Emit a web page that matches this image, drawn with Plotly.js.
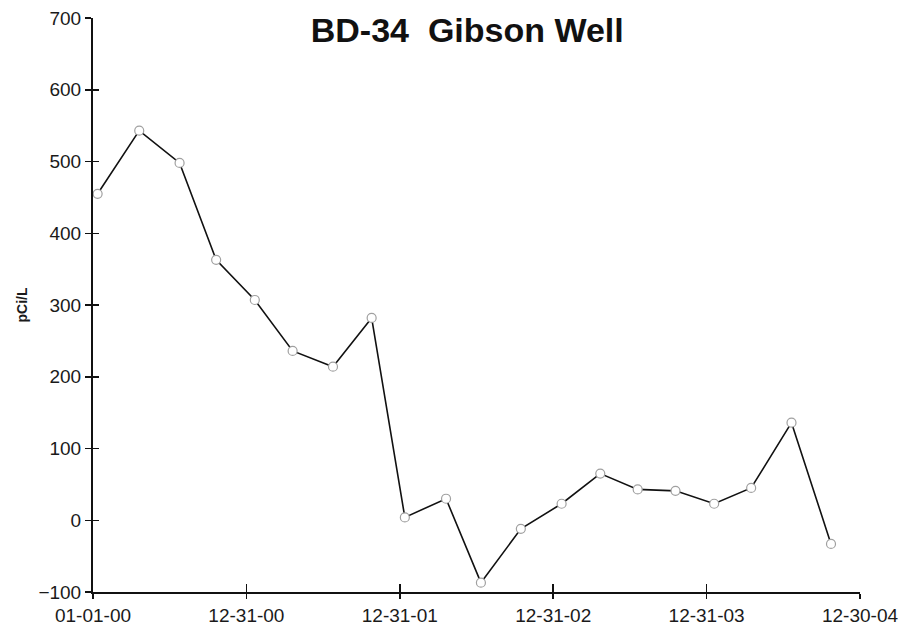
<!DOCTYPE html>
<html>
<head>
<meta charset="utf-8">
<script src="https://cdn.plot.ly/plotly-3.0.1.min.js"></script>
<style>html,body{margin:0;padding:0;background:#fff;}#chart{width:902px;height:630px;}</style>
</head>
<body>
<div id="chart"></div>
<script>
const sampleDates = ["2000-01-12","2000-04-20","2000-07-25","2000-10-20","2001-01-20","2001-04-20","2001-07-25","2001-10-25","2002-01-12","2002-04-20","2002-07-12","2002-10-15","2003-01-20","2003-04-22","2003-07-20","2003-10-18","2004-01-18","2004-04-15","2004-07-20","2004-10-22"];
const pCiValues = [455, 543, 498, 363, 307, 236, 214, 282, 4, 30, -87, -12, 23, 65, 43, 41, 23, 45, 136, -33];
const xTickVals = ["2000-01-01","2000-12-31","2001-12-31","2002-12-31","2003-12-31","2004-12-30"];
const xTickText = ["01-01-00","12-31-00","12-31-01","12-31-02","12-31-03","12-30-04"];
const yTickVals = [-100, 0, 100, 200, 300, 400, 500, 600, 700];

const font = {family: "Liberation Sans, Arial, sans-serif", color: "#1a1a1a"};

const traces = [
  {
    x: sampleDates, y: pCiValues, type: "scatter", mode: "lines+markers",
    line: {color: "#111", width: 1.6},
    marker: {symbol: "circle", size: 9, color: "#fff", line: {color: "#a0a0a0", width: 1.2}},
    hoverinfo: "x+y", showlegend: false
  },
  {x: [], y: [], xaxis: "x2", yaxis: "y2", type: "scatter", mode: "markers", showlegend: false}
];

const layout = {
  width: 902, height: 630,
  paper_bgcolor: "#fff", plot_bgcolor: "#fff",
  margin: {l: 93, r: 42, t: 18, b: 38},
  font: Object.assign({size: 19}, font),
  title: {text: "<b>BD-34  Gibson Well</b>", x: 0.518, xanchor: "center", y: 0.953, yanchor: "middle",
          font: Object.assign({}, font, {size: 34, color: "#111"})},
  xaxis: {
    type: "date", range: ["2000-01-01", "2004-12-30"],
    tickmode: "array", tickvals: xTickVals, ticktext: xTickText,
    showgrid: false, zeroline: false, showline: true, linecolor: "#111", linewidth: 2,
    ticks: "outside", ticklen: 5, tickwidth: 1.5, tickcolor: "#111",
    tickfont: Object.assign({}, font, {size: 19})
  },
  yaxis: {
    range: [-100, 700], tickmode: "array", tickvals: yTickVals,
    showgrid: false, zeroline: false, showline: true, linecolor: "#111", linewidth: 2,
    ticks: "outside", ticklen: 6, tickwidth: 1.5, tickcolor: "#111",
    tickfont: Object.assign({}, font, {size: 19}),
    title: {text: "<b>pCi/L</b>", standoff: 8, font: Object.assign({}, font, {size: 14})}
  },
  xaxis2: {
    type: "date", range: ["2000-01-01", "2004-12-30"], overlaying: "x",
    tickmode: "array", tickvals: xTickVals, showticklabels: false,
    showgrid: false, zeroline: false, showline: false,
    ticks: "inside", ticklen: 8, tickwidth: 1.5, tickcolor: "#111"
  },
  yaxis2: {
    range: [-100, 700], overlaying: "y", side: "left",
    tickmode: "array", tickvals: yTickVals, showticklabels: false,
    showgrid: false, zeroline: false, showline: false,
    ticks: "inside", ticklen: 6, tickwidth: 1.5, tickcolor: "#111"
  }
};

Plotly.newPlot("chart", traces, layout, {displayModeBar: false, staticPlot: true});
</script>
</body>
</html>
